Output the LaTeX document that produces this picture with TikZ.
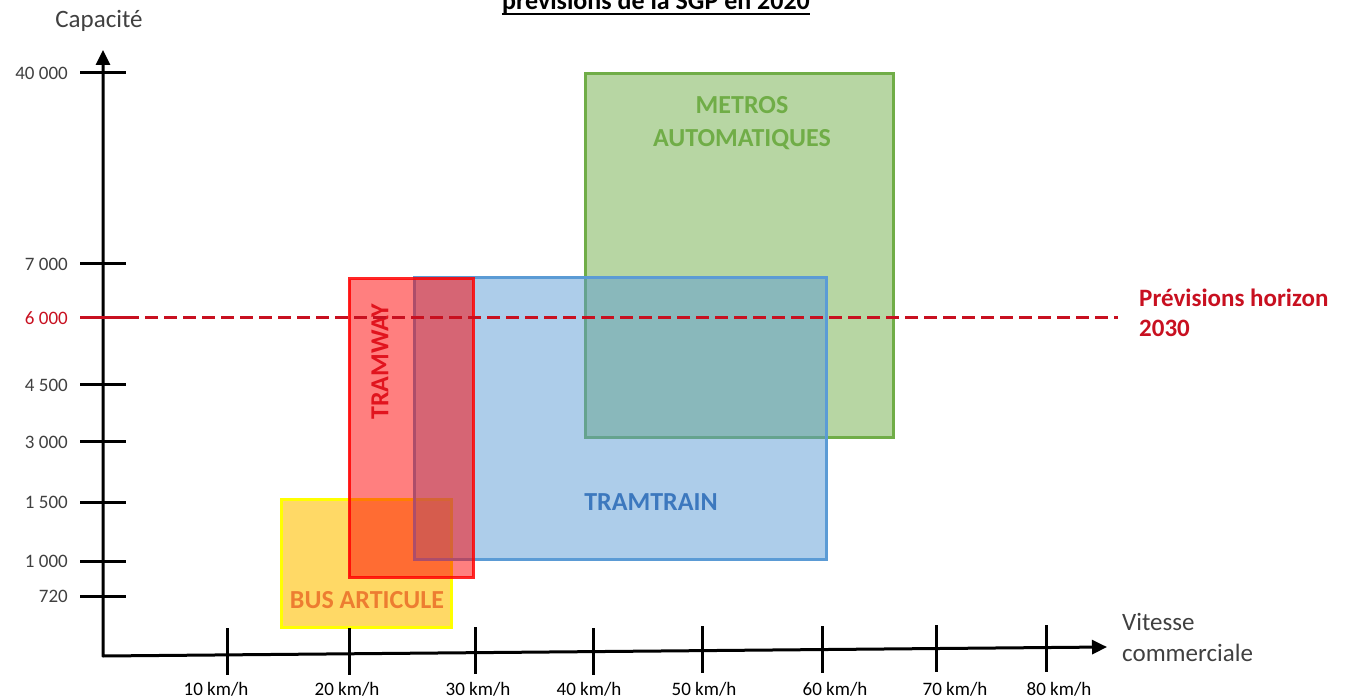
\documentclass[tikz,border=0pt]{standalone}
\usepackage{fontspec}
\setmainfont{Carlito}
\usetikzlibrary{arrows.meta}
\definecolor{gfill}{RGB}{112,173,71}
\definecolor{gtext}{RGB}{112,173,71}
\definecolor{bfill}{RGB}{91,155,213}
\definecolor{btext}{RGB}{60,120,190}
\definecolor{rfill}{RGB}{255,0,0}
\definecolor{rtext}{RGB}{225,20,30}
\definecolor{yfill}{RGB}{255,192,0}
\definecolor{yedge}{RGB}{255,255,0}
\definecolor{otext}{RGB}{237,125,49}
\definecolor{dred}{RGB}{200,16,32}
\definecolor{axgray}{RGB}{64,64,64}
\begin{document}
\begin{tikzpicture}[x=1pt,y=-1pt,
  axisline/.style={line width=3pt,black,line join=round},
  tickline/.style={line width=3pt,black},
  ylbl/.style={anchor=east,inner sep=0pt,text=axgray,font=\fontsize{19}{22}\selectfont},
  xlbl/.style={inner sep=0pt,text=black,font=\fontsize{19}{22}\selectfont},
  boxlbl/.style={inner sep=0pt,font=\bfseries\fontsize{26}{33}\selectfont,align=center},
  bigtxt/.style={inner sep=0pt,font=\fontsize{25}{31}\selectfont,text=axgray},
  zone/.style={line width=3pt}
]
\useasboundingbox (0,0) rectangle (1355,700);

% title (cut at top)
\node[anchor=base,inner sep=0pt,font=\bfseries\fontsize{26}{30}\selectfont] (title) at (656,10) {prévisions de la SGP en 2020};
\draw[line width=2pt] ([yshift=-4pt]title.base west) -- ([yshift=-4pt]title.base east);

% zones
\draw[zone,draw=yedge,fill=yfill,fill opacity=0.6] (281,499) rectangle (451,627);
\draw[zone,draw=gfill,fill=gfill,fill opacity=0.5] (585,74) rectangle (893,438);
\draw[zone,draw=bfill,fill=bfill,fill opacity=0.5] (414,278) rectangle (826,559);
\draw[zone,draw=rfill,fill=rfill,fill opacity=0.5,draw opacity=0.85] (349,279) rectangle (473,577);

% zone labels
\node[boxlbl,text=gtext] (metro) at (742,123) {METROS\\AUTOMATIQUES};
\node[boxlbl,text=btext] (tramtrain) at (651,502) {TRAMTRAIN};
\node[boxlbl,text=rtext,rotate=90] (tramway) at (380,362) {TRAMWAY};
\node[boxlbl,text=otext] (bus) at (367,600) {BUS ARTICULE};

% axes
\coordinate (O) at (103,656);
\coordinate (ytip) at (103,50);
\coordinate (xtip) at (1107,647);
\draw[axisline,{Triangle[length=15pt,width=14pt]}-{Triangle[length=15pt,width=14pt]}] (ytip) -- (O) -- (xtip);

% y ticks and labels
\foreach \yy/\lab/\nm in {73/40 000/a,264/7 000/b,385/4 500/d,442/3 000/e,502/1 500/f,561/1 000/g,596/720/h}{
  \draw[tickline] (80,\yy) -- (126,\yy);
  \node[ylbl] (y\nm) at (68,\yy) {\lab};
}
\node[ylbl,text=dred] (yc) at (68,318) {6 000};

% x ticks and labels
\foreach \xx/\yt/\cx/\lab/\nm in {227/628/216/10/a,349/628/347/20/b,475/627/478/30/c,593/628/589/40/d,702/626/704/50/e,822/626/835/60/f,936/625/955/70/g,1046/625/1059/80/h}{
  \draw[tickline] (\xx,\yt) -- (\xx,\yt+47);
  \node[xlbl] (x\nm) at (\cx,689) {\lab\ km/h};
}

% axis titles
\node[bigtxt,anchor=center] (ytitle) at (99,21) {Capacité};
\node[bigtxt,anchor=west,align=left] (xtitle) at (1122,637) {Vitesse\\commerciale};

% forecast line
\coordinate (fl) at (80,318);
\coordinate (fm) at (126,318);
\coordinate (fr) at (1118,318);
\draw[line width=3pt,dred] (fl) -- (fm);
\draw[line width=3pt,dred,dash pattern=on 13pt off 6pt] (fm) -- (fr);
\node[inner sep=0pt,anchor=west,align=left,text=dred,font=\bfseries\fontsize{25}{30}\selectfont] (prev) at (1139,313) {Prévisions horizon\\2030};
\end{tikzpicture}
\end{document}
